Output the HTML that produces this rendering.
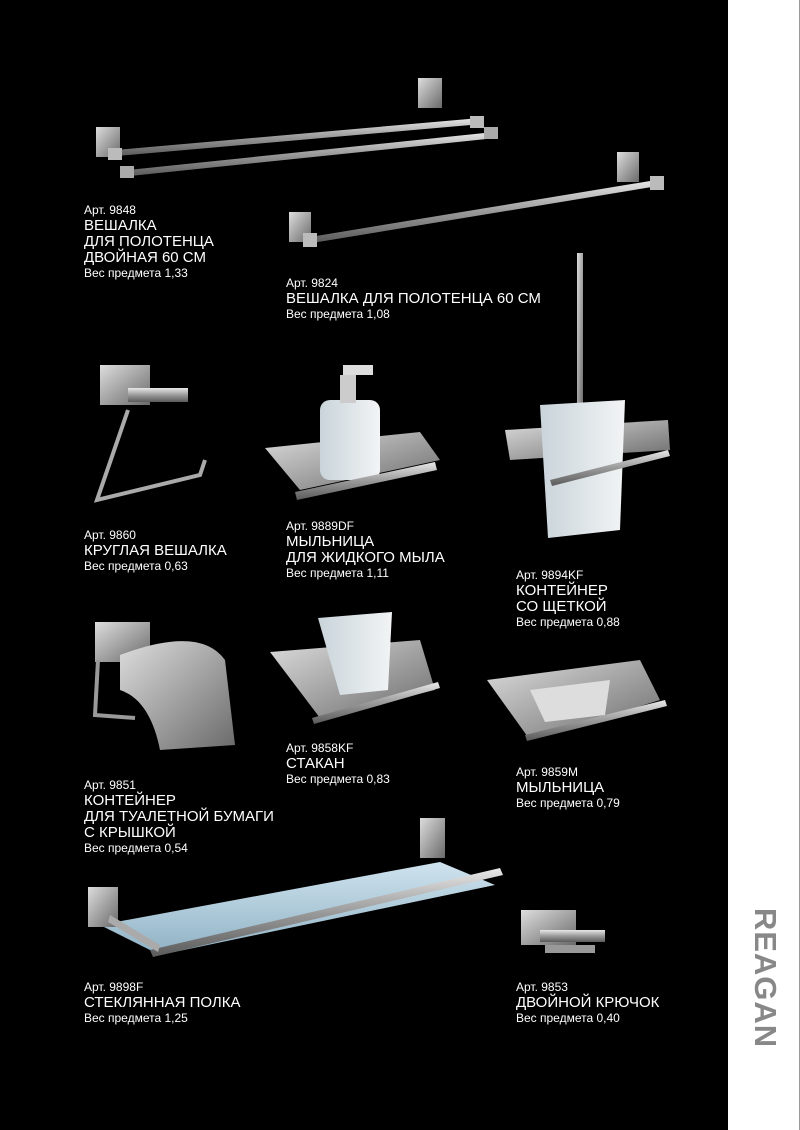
<!DOCTYPE html>
<html><head><meta charset="utf-8"><style>
html,body{margin:0;padding:0}
body{width:800px;height:1130px;position:relative;background:#000;overflow:hidden;font-family:"Liberation Sans","DejaVu Sans",sans-serif;color:#fff}
#strip{position:absolute;left:728px;top:0;width:71px;height:1130px;background:#fff;border-right:1px solid #999}
#brand{position:absolute;left:765px;top:978px;transform:translate(-50%,-50%) rotate(90deg);font-size:31px;font-weight:bold;color:#888;letter-spacing:1px;white-space:nowrap}
.t{position:absolute;line-height:16px;white-space:nowrap}
.t .a{font-size:12px;line-height:15px}
.t .n{font-size:15px;line-height:16px}
.t .w{font-size:12px;line-height:14px}
svg{position:absolute;left:0;top:0}
</style></head><body>
<svg width="728" height="1130" viewBox="0 0 728 1130">
<defs>
<linearGradient id="m" x1="0" y1="0" x2="0" y2="1"><stop offset="0" stop-color="#e8e8e8"/><stop offset=".5" stop-color="#9a9a9a"/><stop offset="1" stop-color="#5a5a5a"/></linearGradient>
<linearGradient id="mp" x1="0" y1="0" x2="1" y2="1"><stop offset="0" stop-color="#ddd"/><stop offset="1" stop-color="#6a6a6a"/></linearGradient>
<linearGradient id="g" x1="0" y1="0" x2="1" y2="0"><stop offset="0" stop-color="#c9d4da"/><stop offset="1" stop-color="#f2f4f5"/></linearGradient>
<linearGradient id="sh" x1="0" y1="0" x2="0" y2="1"><stop offset="0" stop-color="#cfe3ee"/><stop offset="1" stop-color="#8fb2c5"/></linearGradient>
</defs>
<g stroke="none">
<rect x="96" y="127" width="24" height="30" fill="url(#mp)"/>
<rect x="418" y="78" width="24" height="30" fill="url(#mp)"/>
<polygon points="115,150 480,118 482,124 117,156" fill="url(#m)"/>
<polygon points="128,170 494,132 496,138 130,176" fill="url(#m)"/>
<rect x="108" y="148" width="14" height="12" fill="#bbb"/><rect x="120" y="166" width="14" height="12" fill="#aaa"/>
<rect x="470" y="116" width="14" height="12" fill="#bbb"/><rect x="484" y="127" width="14" height="12" fill="#aaa"/>
<rect x="289" y="212" width="22" height="30" fill="url(#mp)"/>
<rect x="617" y="152" width="22" height="30" fill="url(#mp)"/>
<polygon points="310,237 656,180 658,186 312,243" fill="url(#m)"/>
<rect x="303" y="233" width="14" height="14" fill="#bbb"/><rect x="650" y="176" width="14" height="14" fill="#bbb"/>
<rect x="100" y="365" width="50" height="40" fill="url(#mp)"/>
<rect x="128" y="388" width="60" height="14" fill="url(#m)"/>
<path d="M128,410 L97,500 L200,475 L205,460" fill="none" stroke="#aaa" stroke-width="4"/>
<polygon points="265,448 420,432 440,460 300,490" fill="url(#mp)"/>
<rect x="320" y="400" width="60" height="80" rx="10" fill="url(#g)"/>
<rect x="340" y="375" width="16" height="28" fill="#ccc"/>
<rect x="343" y="365" width="30" height="10" fill="#ddd"/>
<polygon points="295,492 435,462 437,470 297,500" fill="url(#m)"/>
<rect x="577" y="253" width="6" height="160" fill="url(#mp)"/>
<polygon points="505,430 668,420 670,450 510,460" fill="url(#mp)"/>
<polygon points="540,405 625,400 620,530 548,538" fill="url(#g)"/>
<polygon points="550,480 668,450 670,456 552,486" fill="url(#m)"/>
<rect x="95" y="622" width="55" height="40" fill="url(#mp)"/>
<path d="M98,660 L95,715 L135,718" fill="none" stroke="#999" stroke-width="4"/>
<path d="M120,655 Q200,625 225,660 L235,745 L160,750 Q150,700 120,690 Z" fill="url(#mp)"/>
<polygon points="270,652 420,640 435,690 320,718" fill="url(#mp)"/>
<polygon points="318,618 392,612 388,690 340,695" fill="url(#g)"/>
<polygon points="312,718 438,682 440,688 314,724" fill="url(#m)"/>
<polygon points="487,680 640,660 660,700 530,740" fill="url(#mp)"/>
<polygon points="530,690 610,680 605,715 545,722" fill="#ddd"/>
<polygon points="525,735 665,700 667,706 527,741" fill="url(#m)"/>
<polygon points="100,925 440,862 495,885 160,955" fill="url(#sh)"/>
<rect x="88" y="887" width="30" height="40" fill="url(#mp)"/>
<rect x="420" y="818" width="25" height="40" fill="url(#mp)"/>
<polygon points="150,950 500,868 503,875 153,957" fill="url(#m)"/>
<polygon points="110,915 160,945 158,952 108,922" fill="#aaa"/>
<rect x="521" y="910" width="55" height="35" fill="url(#mp)"/>
<rect x="540" y="930" width="65" height="12" fill="url(#m)"/>
<rect x="545" y="945" width="50" height="8" fill="#999"/>
</g>
</svg>
<div id="strip"></div>
<div id="brand">REAGAN</div>

<div class="t" style="left:84px;top:203px"><div class="a">Арт. 9848</div><div class="n">ВЕШАЛКА<br>ДЛЯ ПОЛОТЕНЦА<br>ДВОЙНАЯ 60 СМ</div><div class="w">Вес предмета 1,33</div></div>
<div class="t" style="left:286px;top:276px"><div class="a">Арт. 9824</div><div class="n">ВЕШАЛКА ДЛЯ ПОЛОТЕНЦА 60 СМ</div><div class="w">Вес предмета 1,08</div></div>
<div class="t" style="left:84px;top:528px"><div class="a">Арт. 9860</div><div class="n">КРУГЛАЯ ВЕШАЛКА</div><div class="w">Вес предмета 0,63</div></div>
<div class="t" style="left:286px;top:519px"><div class="a">Арт. 9889DF</div><div class="n">МЫЛЬНИЦА<br>ДЛЯ ЖИДКОГО МЫЛА</div><div class="w">Вес предмета 1,11</div></div>
<div class="t" style="left:516px;top:568px"><div class="a">Арт. 9894KF</div><div class="n">КОНТЕЙНЕР<br>СО ЩЕТКОЙ</div><div class="w">Вес предмета 0,88</div></div>
<div class="t" style="left:84px;top:778px"><div class="a">Арт. 9851</div><div class="n">КОНТЕЙНЕР<br>ДЛЯ ТУАЛЕТНОЙ БУМАГИ<br>С КРЫШКОЙ</div><div class="w">Вес предмета 0,54</div></div>
<div class="t" style="left:286px;top:741px"><div class="a">Арт. 9858KF</div><div class="n">СТАКАН</div><div class="w">Вес предмета 0,83</div></div>
<div class="t" style="left:516px;top:765px"><div class="a">Арт. 9859M</div><div class="n">МЫЛЬНИЦА</div><div class="w">Вес предмета 0,79</div></div>
<div class="t" style="left:84px;top:980px"><div class="a">Арт. 9898F</div><div class="n">СТЕКЛЯННАЯ ПОЛКА</div><div class="w">Вес предмета 1,25</div></div>
<div class="t" style="left:516px;top:980px"><div class="a">Арт. 9853</div><div class="n">ДВОЙНОЙ КРЮЧОК</div><div class="w">Вес предмета 0,40</div></div>
</body></html>
